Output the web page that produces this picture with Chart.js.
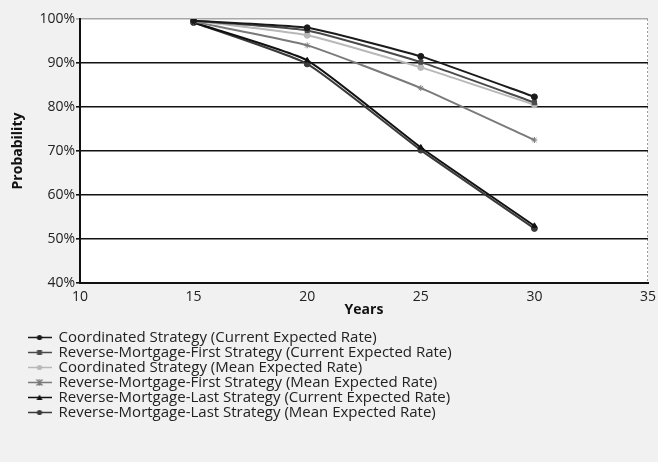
<!DOCTYPE html>
<html><head><meta charset="utf-8">
<script src="https://cdn.jsdelivr.net/npm/chart.js@4/dist/chart.umd.min.js"></script>
<style>html,body{margin:0;padding:0;background:#f1f1f1;}canvas{display:block;}</style>
</head><body>
<canvas id="c" width="658" height="462"></canvas>
<script>
const years = [15, 20, 25, 30];
const seriesNames = [
  "Coordinated Strategy (Current Expected Rate)",
  "Reverse-Mortgage-First Strategy (Current Expected Rate)",
  "Coordinated Strategy (Mean Expected Rate)",
  "Reverse-Mortgage-First Strategy (Mean Expected Rate)",
  "Reverse-Mortgage-Last Strategy (Current Expected Rate)",
  "Reverse-Mortgage-Last Strategy (Mean Expected Rate)"
];
const coordCurrent = [99.6, 98.0, 91.5, 82.3];
const rmFirstCurrent = [99.6, 97.4, 90.2, 81.0];
const coordMean = [99.6, 96.3, 89.0, 80.5];
const rmFirstMean = [99.4, 94.0, 84.3, 72.5];
const rmLastCurrent = [99.2, 90.6, 70.8, 53.0];
const rmLastMean = [99.2, 89.8, 70.2, 52.4];
const yTicks = [40, 50, 60, 70, 80, 90, 100];
const xTicks = [10, 15, 20, 25, 30, 35];

const allSeries = [coordCurrent, rmFirstCurrent, coordMean, rmFirstMean, rmLastCurrent, rmLastMean];
const colors = ['#1a1a1a', '#4a4a4a', '#b8b8b8', '#7a7a7a', '#111111', '#3a3a3a'];
const markers = ['circle', 'rect', 'circle', 'star', 'triangle', 'circle'];

function legendIcon(color, marker) {
  const cv = document.createElement('canvas');
  cv.width = 24; cv.height = 9;
  const g = cv.getContext('2d');
  g.strokeStyle = color; g.fillStyle = color; g.lineWidth = 1.5;
  g.beginPath(); g.moveTo(0, 4.5); g.lineTo(24, 4.5); g.stroke();
  g.beginPath();
  if (marker === 'rect') { g.fillRect(9.5, 2, 5, 5); }
  else if (marker === 'triangle') { g.moveTo(12, 1.5); g.lineTo(15, 7); g.lineTo(9, 7); g.closePath(); g.fill(); }
  else if (marker === 'star') { g.lineWidth = 1.2; g.moveTo(9, 1.5); g.lineTo(15, 7.5); g.moveTo(15, 1.5); g.lineTo(9, 7.5); g.moveTo(12, 1); g.lineTo(12, 8); g.moveTo(8.5, 4.5); g.lineTo(15.5, 4.5); g.stroke(); }
  else { g.arc(12, 4.5, 2.6, 0, Math.PI * 2); g.fill(); }
  return cv;
}

const datasets = allSeries.map((vals, i) => ({
  label: seriesNames[i],
  data: years.map((x, j) => ({x: x, y: vals[j]})),
  borderColor: colors[i],
  backgroundColor: colors[i],
  borderWidth: 2,
  pointStyle: markers[i],
  pointRadius: 3,
  pointBorderWidth: 1,
  tension: 0.15,
  fill: false
}));

const plotBg = {
  id: 'plotBg',
  beforeDraw(chart) {
    const {ctx, chartArea: a} = chart;
    ctx.save(); ctx.fillStyle = '#ffffff';
    ctx.fillRect(a.left, a.top, a.right - a.left, a.bottom - a.top);
    ctx.strokeStyle = '#9a9a9a'; ctx.lineWidth = 1; ctx.setLineDash([2, 2]);
    ctx.beginPath(); ctx.moveTo(a.right - 0.5, a.top); ctx.lineTo(a.right - 0.5, a.bottom); ctx.stroke();
    ctx.restore();
  }
};

new Chart(document.getElementById('c'), {
  type: 'line',
  data: { datasets },
  plugins: [plotBg],
  options: {
    responsive: false,
    animation: false,
    layout: { padding: { left: 28, right: 10, top: 19, bottom: 32 } },
    plugins: {
      tooltip: { enabled: false },
      legend: {
        position: 'bottom',
        align: 'start',
        labels: {
          usePointStyle: true,
          pointStyleWidth: 23,
          padding: 0,
          color: '#222',
          font: { family: 'Open Sans', size: 15 },
          generateLabels(chart) {
            const items = Chart.defaults.plugins.legend.labels.generateLabels(chart);
            items.forEach((it, i) => { it.pointStyle = legendIcon(colors[i], markers[i]); });
            return items;
          }
        }
      }
    },
    scales: {
      x: {
        type: 'linear',
        min: 10, max: 35,
        afterBuildTicks(s) { s.ticks = xTicks.map(v => ({value: v})); },
        afterFit(s) { s.height = 47; s.paddingRight = 0; s.paddingLeft = 0; },
        grid: { display: false, drawTicks: false, tickLength: 0 },
        border: { color: '#111', width: 2 },
        ticks: { color: '#222', padding: 6, font: { family: 'Open Sans', size: 14 } },
        title: { display: true, text: 'Years', color: '#111', padding: { top: 0, bottom: 12 }, font: { family: 'Open Sans', size: 14, weight: 'bold' } }
      },
      y: {
        min: 40, max: 100,
        afterBuildTicks(s) { s.ticks = yTicks.map(v => ({value: v})); },
        afterFit(s) { s.width = 52; },
        grid: {
          color: ctx => (ctx.tick && ctx.tick.value === 100) ? '#a8a8a8' : '#111',
          lineWidth: 1.6,
          drawTicks: true,
          tickLength: 4
        },
        border: { color: '#111', width: 2 },
        ticks: { color: '#222', padding: 1, callback: v => v + '%', font: { family: 'Open Sans', size: 14 } },
        title: { display: true, text: 'Probability', color: '#111', padding: { top: -18, bottom: 0 }, font: { family: 'Open Sans', size: 14, weight: 'bold' } }
      }
    }
  }
});
</script>
</body></html>
